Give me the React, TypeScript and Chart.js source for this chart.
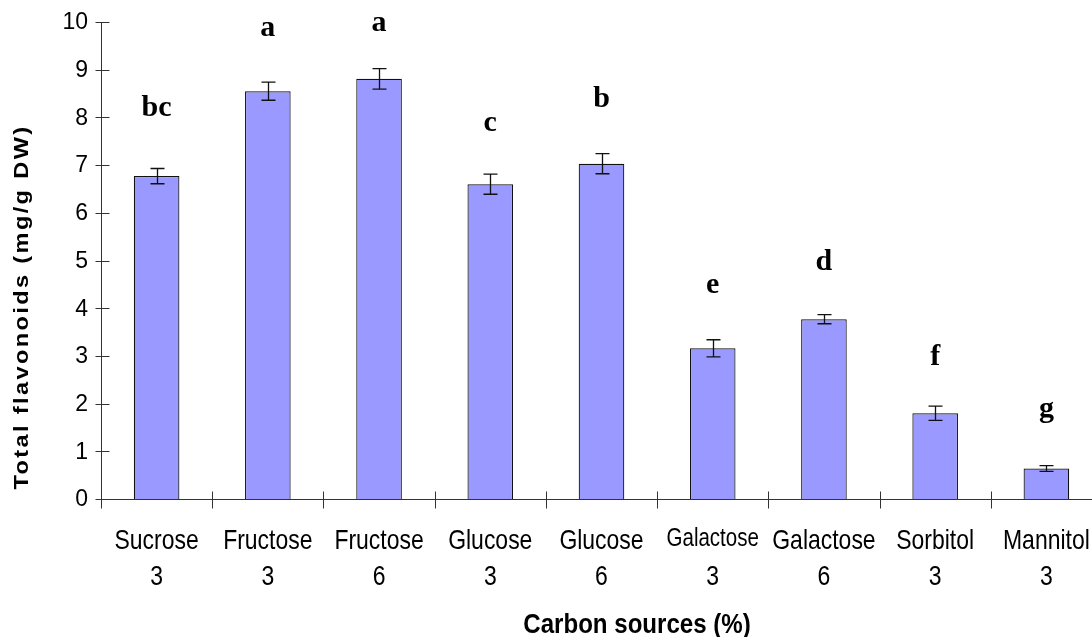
import React, { useEffect, useRef } from "react";
import { Chart, registerables } from "chart.js";

Chart.register(...registerables);

// ---- data ----
const categories: string[][] = [
  ["Sucrose", "3"],
  ["Fructose", "3"],
  ["Fructose", "6"],
  ["Glucose", "3"],
  ["Glucose", "6"],
  ["Galactose", "3"],
  ["Galactose", "6"],
  ["Sorbitol", "3"],
  ["Mannitol", "3"],
];
const values = [6.79, 8.57, 8.83, 6.62, 7.05, 3.18, 3.79, 1.82, 0.66];
const errors = [0.16, 0.19, 0.215, 0.21, 0.21, 0.18, 0.095, 0.15, 0.06];
const letters = ["bc", "a", "a", "c", "b", "e", "d", "f", "g"];
const letterBaselines = [8.05, 9.72, 9.83, 7.73, 8.23, 4.33, 4.82, 2.84, 1.74];
const yMin = 0;
const yMax = 10;
const yStep = 1;
const yTitle = "Total flavonoids (mg/g DW)";
const xTitle = "Carbon sources (%)";

const sansFamily = '"Liberation Sans", Arial, sans-serif';

export default function App() {
  const ref = useRef<HTMLCanvasElement | null>(null);

  useEffect(() => {
    const canvas = ref.current;
    if (!canvas) return;

    const condensedText = (
      ctx: CanvasRenderingContext2D,
      text: string,
      x: number,
      y: number,
      font: string,
      sx: number
    ) => {
      ctx.save();
      ctx.translate(x, y);
      ctx.scale(sx, 1);
      ctx.font = font;
      ctx.textAlign = "center";
      ctx.textBaseline = "middle";
      ctx.fillText(text, 0, 0);
      ctx.restore();
    };

    const overlay = {
      id: "overlay",
      afterDatasetsDraw(chart: any) {
        const ctx = chart.ctx as CanvasRenderingContext2D;
        const xs = chart.scales.x;
        const ys = chart.scales.y;
        const area = chart.chartArea;
        ctx.save();

        // error bars
        ctx.strokeStyle = "#111";
        ctx.lineWidth = 1.3;
        values.forEach((v, i) => {
          const cx = Math.round(xs.getPixelForValue(i)) + 0.5;
          const t = ys.getPixelForValue(v + errors[i]);
          const b = ys.getPixelForValue(v - errors[i]);
          ctx.beginPath();
          ctx.moveTo(cx, t);
          ctx.lineTo(cx, b);
          ctx.moveTo(cx - 7, t);
          ctx.lineTo(cx + 7, t);
          ctx.moveTo(cx - 7, b);
          ctx.lineTo(cx + 7, b);
          ctx.stroke();
        });

        // axes
        ctx.strokeStyle = "#333";
        ctx.lineWidth = 1;
        const y0 = Math.round(ys.getPixelForValue(yMin)) - 0.5;
        const xl = Math.round(area.left) + 0.5;
        ctx.beginPath();
        ctx.moveTo(xl, ys.getPixelForValue(yMax));
        ctx.lineTo(xl, y0 + 9);
        ctx.moveTo(area.left, y0);
        ctx.lineTo(chart.width, y0);
        for (let v = yMin; v <= yMax; v += yStep) {
          const py = Math.round(ys.getPixelForValue(v)) - 0.5;
          ctx.moveTo(xl - 6, py);
          ctx.lineTo(xl + 8, py);
        }
        for (let k = 1; k <= categories.length; k++) {
          const px = Math.round(xs.getPixelForValue(k - 0.5)) + 0.5;
          ctx.moveTo(px, y0 - 8);
          ctx.lineTo(px, y0 + 9);
        }
        ctx.stroke();

        ctx.fillStyle = "#000";

        // category labels (two lines)
        categories.forEach((lines, i) => {
          const cx = xs.getPixelForValue(i);
          const small = i === 5;
          condensedText(ctx, lines[0], cx, small ? 539 : 541, (small ? 25 : 28) + "px " + sansFamily, 0.82);
          condensedText(ctx, lines[1], cx, 577, "28px " + sansFamily, 0.82);
        });

        // significance letters
        ctx.font = 'bold 30px "Liberation Serif", "Times New Roman", serif';
        ctx.textAlign = "center";
        ctx.textBaseline = "alphabetic";
        letters.forEach((l, i) => {
          ctx.fillText(l, xs.getPixelForValue(i), ys.getPixelForValue(letterBaselines[i]));
        });

        // x title
        condensedText(ctx, xTitle, 637, 625, "bold 28px " + sansFamily, 0.86);

        // y title
        ctx.save();
        ctx.translate(22, 307);
        ctx.rotate(-Math.PI / 2);
        ctx.font = "bold 20px " + sansFamily;
        (ctx as any).letterSpacing = "2px";
        const w = ctx.measureText(yTitle).width;
        ctx.scale(365 / w, 1);
        ctx.textAlign = "center";
        ctx.textBaseline = "middle";
        ctx.fillText(yTitle, 0, 0);
        ctx.restore();

        ctx.restore();
      },
    };

    const chart = new Chart(canvas, {
      type: "bar",
      data: {
        labels: categories.map((c) => c.join(" ")),
        datasets: [
          {
            data: values,
            backgroundColor: "#9999FF",
            borderColor: "#111",
            borderWidth: 1.2,
            barPercentage: 0.41,
            categoryPercentage: 1,
          },
        ],
      },
      options: {
        animation: false,
        responsive: false,
        devicePixelRatio: 1,
        layout: { padding: { top: 23, right: 1, left: 0, bottom: 0 } },
        plugins: {
          legend: { display: false },
          tooltip: { enabled: false },
          title: { display: false },
        },
        scales: {
          x: {
            offset: true,
            grid: { display: false, drawTicks: false },
            border: { display: false },
            ticks: { display: false },
            afterFit: (s: any) => {
              s.height = 137;
              s.paddingLeft = 0;
              s.paddingRight = 0;
            },
          },
          y: {
            min: yMin,
            max: yMax,
            grid: { display: false, drawTicks: false },
            border: { display: false },
            ticks: {
              stepSize: yStep,
              color: "#000",
              padding: 13,
              font: { family: sansFamily, size: 23 },
            },
            afterFit: (s: any) => {
              s.width = 101;
              s.paddingTop = 0;
              s.paddingBottom = 0;
            },
          },
        },
      },
      plugins: [overlay],
    } as any);

    return () => {
      chart.destroy();
    };
  }, []);

  return (
    <div
      style={{
        position: "fixed",
        left: 0,
        top: 0,
        width: 1092,
        height: 637,
        overflow: "hidden",
        background: "#fff",
      }}
    >
      <canvas ref={ref} width={1103} height={637} style={{ display: "block", width: 1103, height: 637 }} />
    </div>
  );
}
